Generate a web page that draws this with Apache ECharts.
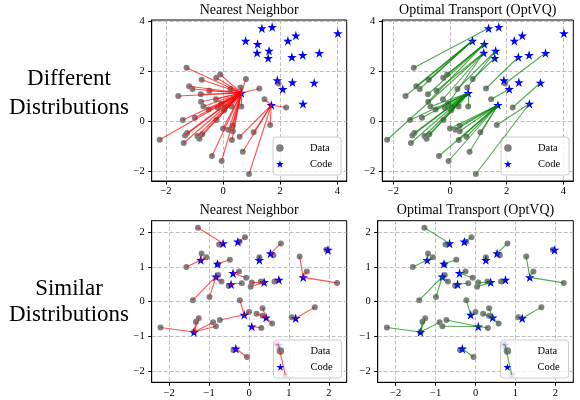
<!DOCTYPE html>
<html>
<head>
<meta charset="utf-8">
<script src="https://cdn.jsdelivr.net/npm/echarts@6/dist/echarts.min.js"></script>
<style>
html, body { margin: 0; padding: 0; background: #fff; }
#chart { width: 580px; height: 400px; }
</style>
</head>
<body>
<div id="chart"></div>
<script>
// data points (same set in all four panels)
const dataX = [-1.28, -0.75, -0.10, -0.24, 0.80, 0.61, -1.19, -1.07, -1.57, -0.48, 0.26, 1.27, 1.45, 2.21, 1.94, -0.25,
    -0.07, -0.77, -0.69, -1.41, -0.99, -0.51, -0.18, 0.07, 0.04, 0.30, 0.64, -0.23, 0.00, 0.19, 0.34, 0.34,
    0.31, 0.58, 1.07, 1.65, -2.22, -1.26, -1.33, -1.38, -0.90, -0.83, -0.73, -0.39, -0.05, 0.69, 0.91, -0.78]
const dataY = [2.13, 1.65, 1.86, 1.73, 1.68, 1.34, 1.39, 1.28, 1.00, 1.21, 1.28, 1.30, 0.87, 0.54, 1.50, 0.87,
    0.69, 0.77, 0.58, 0.04, 0.13, 0.46, 0.53, 0.55, 0.43, 0.58, 0.58, 0.04, -0.30, -0.35, -0.41, -0.19,
    -0.76, -0.63, -0.45, -0.16, -0.75, -0.48, -0.58, -0.88, -0.60, -0.71, -0.53, -1.40, -1.60, -1.23, -2.12, 1.07]

// codes, different distributions (top row)
const diffCodeX = [1.36, 1.72, 0.79, 1.21, 1.19, 1.61, 1.58, 2.27, 2.55, 4.02, 2.41, 2.79, 3.37, 1.90, 2.09, 2.43, 3.19, 2.80, 1.69, 0.64]
const diffCodeY = [3.71, 3.76, 3.21, 3.08, 2.73, 2.81, 2.52, 3.21, 3.42, 3.51, 2.56, 2.64, 2.72, 1.63, 1.28, 1.55, 1.53, 0.69, 0.64, 1.12]

// codes, similar distributions (bottom row)
const simCodeX = [-0.65, -0.28, 0.54, 1.98, -1.21, -0.79, 0.26, -0.40, -0.83, -0.45, 0.38, 0.75, 1.36, -0.12, 0.43, 1.17, 0.07, -1.38, -0.33, 0.74]
const simCodeY = [1.68, 1.73, 1.39, 1.49, 1.20, 1.09, 1.20, 0.82, 0.72, 0.50, 0.56, 0.63, 0.70, -0.38, -0.46, -0.48, -0.72, -0.88, -1.36, -1.25]

// code index each data point is linked to
const diffNearest = [19, 19, 19, 19, 19, 19, 19, 19, 19, 19, 19, 19, 18, 18, 13, 19,
    19, 19, 19, 19, 19, 19, 19, 19, 19, 19, 19, 19, 19, 19, 19, 19,
    19, 18, 18, 18, 19, 19, 19, 19, 19, 19, 19, 19, 19, 18, 18, 19]
const diffOptimal = [0, 2, 3, 3, 6, 5, 2, 2, 2, 4, 5, 10, 14, 16, 12, 4,
    4, 3, 19, 19, 19, 19, 19, 19, 19, 19, 19, 19, 18, 18, 18, 18,
    18, 18, 18, 17, 4, 19, 19, 19, 19, 19, 19, 18, 18, 18, 17, 3]
const simNearest = [0, 0, 1, 1, 2, 2, 4, 4, 4, 5, 6, 12, 12, 12, 3, 7,
    7, 8, 8, 8, 8, 9, 9, 10, 10, 10, 11, 13, 13, 14, 14, 14,
    16, 14, 15, 15, 17, 17, 17, 17, 17, 17, 13, 18, 18, 19, 19, 5]
const simOptimal = [0, 0, 1, 1, 2, 2, 4, 4, 4, 5, 6, 12, 12, 12, 3, 7,
    7, 8, 8, 8, 8, 9, 9, 10, 10, 10, 11, 13, 13, 14, 14, 14,
    16, 14, 15, 15, 17, 17, 17, 17, 17, 16, 16, 18, 18, 19, 19, 5]

const diffTicks = [-2, 0, 2, 4]
const simTicks = [-2, -1, 0, 1, 2]

const serif = '"Liberation Serif", "DejaVu Serif", serif'
const star = 'path://M50,2 L61.8,38.2 L99.5,38.2 L69,60.6 L80.6,96.6 L50,74.4 L19.4,96.6 L31,60.6 L0.5,38.2 L38.2,38.2 Z'
const minus = v => String(v).replace('-', '\u2212')

const panels = [
    { left: 151.7, top: 20, width: 195, height: 161, x: [-2.5, 4.33], y: [-2.4, 4.04], ticks: diffTicks,
      codeX: diffCodeX, codeY: diffCodeY, link: diffNearest, color: '#ff0000', title: 'Nearest Neighbor', legend: [273, 137] },
    { left: 382.3, top: 20, width: 191, height: 161, x: [-2.39, 4.35], y: [-2.4, 4.04], ticks: diffTicks,
      codeX: diffCodeX, codeY: diffCodeY, link: diffOptimal, color: '#008000', title: 'Optimal Transport (OptVQ)', legend: [501, 137] },
    { left: 151.7, top: 220.7, width: 195, height: 161.6, x: [-2.44, 2.45], y: [-2.33, 2.335], ticks: simTicks,
      codeX: simCodeX, codeY: simCodeY, link: simNearest, color: '#ff0000', title: 'Nearest Neighbor', legend: [273.5, 340] },
    { left: 377.7, top: 220.7, width: 195.6, height: 161.6, x: [-2.45, 2.45], y: [-2.33, 2.335], ticks: simTicks,
      codeX: simCodeX, codeY: simCodeY, link: simOptimal, color: '#008000', title: 'Optimal Transport (OptVQ)', legend: [500.5, 340] },
]

const axisBase = ticks => ({
    type: 'value',
    axisLine: { show: true, onZero: false, lineStyle: { color: '#000', width: 1 } },
    axisTick: { show: true, length: 3.5, customValues: ticks, lineStyle: { color: '#000', width: 1 } },
    axisLabel: { customValues: ticks, formatter: minus, color: '#000', fontFamily: serif, fontSize: 10.5 },
    splitLine: { show: true, lineStyle: { color: '#b0b0b0', width: 0.8, type: [4, 2] } },
})

const chart = echarts.init(document.getElementById('chart'))

chart.setOption({
    animation: false,
    backgroundColor: '#fff',
    grid: panels.map(p => ({
        left: p.left, top: p.top, width: p.width, height: p.height,
        show: true, borderColor: '#000', borderWidth: 1, backgroundColor: 'transparent',
    })),
    xAxis: panels.map((p, i) => {
        const axis = axisBase(p.ticks)
        axis.gridIndex = i
        axis.min = p.x[0]
        axis.max = p.x[1]
        axis.axisLabel.margin = 5
        return axis
    }),
    yAxis: panels.map((p, i) => {
        const axis = axisBase(p.ticks)
        axis.gridIndex = i
        axis.min = p.y[0]
        axis.max = p.y[1]
        axis.axisLabel.margin = 7
        return axis
    }),
    legend: panels.map(p => ({
        orient: 'vertical',
        left: p.legend[0],
        top: p.legend[1],
        itemWidth: 10,
        itemHeight: 7.5,
        itemGap: 4,
        padding: [5, 9, 5, 3],
        backgroundColor: 'rgba(255,255,255,0.8)',
        borderColor: '#cccccc',
        borderWidth: 1,
        borderRadius: 3,
        selectedMode: false,
        textStyle: { color: '#000', fontFamily: serif, fontSize: 10.5, lineHeight: 12, padding: [0, 0, 0, 20] },
        data: [
            { name: 'Data', icon: 'circle', itemStyle: { color: '#808080' } },
            { name: 'Code', icon: star, itemStyle: { color: '#0000ff' } },
        ],
    })),
    graphic: [
        ...panels.map(p => ({
            type: 'text',
            x: p.left + p.width / 2,
            y: p.top - 10,
            style: { text: p.title, font: '14px ' + serif, fill: '#000', align: 'center', verticalAlign: 'middle' },
        })),
        { type: 'text', x: 69, y: 79, style: { text: 'Different', font: '23px ' + serif, fill: '#000', align: 'center', verticalAlign: 'middle' } },
        { type: 'text', x: 69, y: 108, style: { text: 'Distributions', font: '23px ' + serif, fill: '#000', align: 'center', verticalAlign: 'middle' } },
        { type: 'text', x: 69, y: 289, style: { text: 'Similar', font: '23px ' + serif, fill: '#000', align: 'center', verticalAlign: 'middle' } },
        { type: 'text', x: 69, y: 315, style: { text: 'Distributions', font: '23px ' + serif, fill: '#000', align: 'center', verticalAlign: 'middle' } },
    ],
    series: panels.flatMap((p, i) => [
        {
            name: 'Data',
            type: 'scatter',
            xAxisIndex: i,
            yAxisIndex: i,
            symbol: 'circle',
            symbolSize: 6,
            itemStyle: { color: '#808080', opacity: 1 },
            z: 2,
            data: dataX.map((x, k) => [x, dataY[k]]),
        },
        {
            name: 'Code',
            type: 'scatter',
            xAxisIndex: i,
            yAxisIndex: i,
            symbol: star,
            symbolSize: 9.5,
            itemStyle: { color: '#0000ff', opacity: 1 },
            z: 3,
            data: p.codeX.map((x, k) => [x, p.codeY[k]]),
        },
        {
            type: 'lines',
            coordinateSystem: 'cartesian2d',
            xAxisIndex: i,
            yAxisIndex: i,
            silent: true,
            z: 4,
            lineStyle: { color: p.color, width: 1.1, opacity: 0.68 },
            data: p.link.map((c, k) => ({ coords: [[dataX[k], dataY[k]], [p.codeX[c], p.codeY[c]]] })),
        },
    ]),
})
</script>
</body>
</html>
